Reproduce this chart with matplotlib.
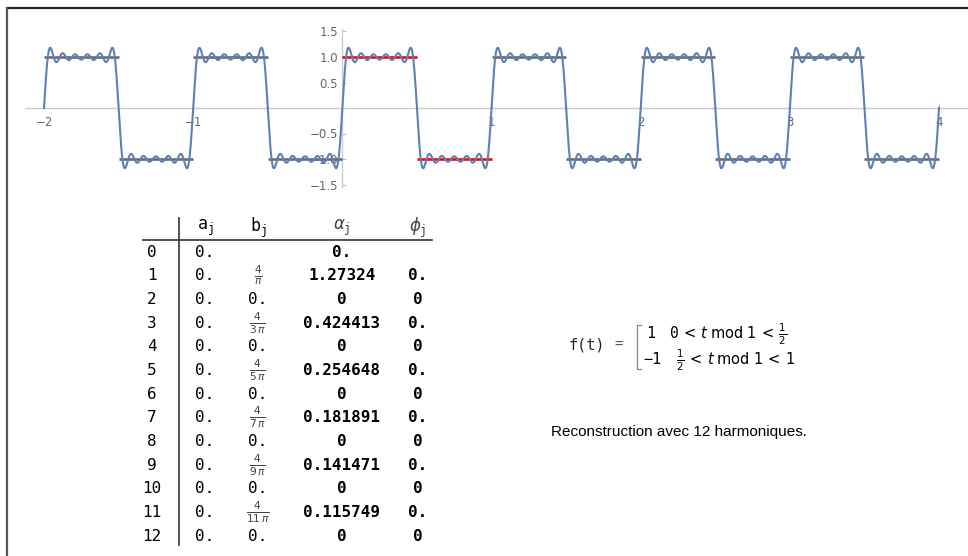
import numpy as np
import matplotlib.pyplot as plt
from matplotlib.lines import Line2D

# coefficients de Fourier (signal carré, période 1)
harmonics = list(range(13))
a_labels = ['0.'] * 13
b_values = [0, 4 / np.pi, 0, 4 / (3 * np.pi), 0, 4 / (5 * np.pi), 0,
            4 / (7 * np.pi), 0, 4 / (9 * np.pi), 0, 4 / (11 * np.pi), 0]
b_labels = ['', r'$\frac{4}{\pi}$', '0.', r'$\frac{4}{3\,\pi}$', '0.',
            r'$\frac{4}{5\,\pi}$', '0.', r'$\frac{4}{7\,\pi}$', '0.',
            r'$\frac{4}{9\,\pi}$', '0.', r'$\frac{4}{11\,\pi}$', '0.']
alpha_labels = ['0.', '1.27324', '0', '0.424413', '0', '0.254648', '0',
                '0.181891', '0', '0.141471', '0', '0.115749', '0']
phi_labels = ['', '0.', '0', '0.', '0', '0.', '0', '0.', '0', '0.', '0', '0.', '0']

t_start, t_end = -2, 4
periods = list(range(-2, 4))
x_ticks = [-2, -1, 1, 2, 3, 4]
y_ticks = [-1.5, -1.0, -0.5, 0.5, 1.0, 1.5]

W, H = 968, 556
fig = plt.figure(figsize=(W / 100, H / 100), dpi=100)


def px(x, y):
    return x / W, 1 - y / H


# axes: -2 -> px 44, 4 -> px 939 ; y=0 -> px 108, 51 px par unité
ux = (939 - 44) / 6
uy = 51
ax = fig.add_axes([25 / W, 1 - 195 / H, 943 / W, 170 / H])
ax.set_xlim(-2 - 19 / ux, 4 + 29 / ux)
ax.set_ylim(-(195 - 108) / uy, (108 - 25) / uy)
ax.patch.set_alpha(0)

# reconstruction avec 12 harmoniques
t = np.linspace(t_start, t_end, 4000)
f = np.zeros_like(t)
for j, b in zip(harmonics, b_values):
    f += b * np.sin(2 * np.pi * j * t)

for k in periods:
    c = 'red' if k == 0 else '#6b6b6b'
    ax.plot([k, k + 0.5], [1, 1], color=c, lw=1.9, zorder=2, solid_capstyle='butt')
    ax.plot([k + 0.5, k + 1], [-1, -1], color=c, lw=1.9, zorder=2, solid_capstyle='butt')
ax.plot(t, f, color='#5E81B5', lw=1.5, zorder=3)

for s in ['top', 'right']:
    ax.spines[s].set_visible(False)
ax.spines['bottom'].set_position(('data', 0))
ax.spines['left'].set_position(('data', 0))
ax.spines['left'].set_bounds(-1.55, 1.55)
for s in ['bottom', 'left']:
    ax.spines[s].set_color('#cccccc')
    ax.spines[s].set_linewidth(1.0)
    ax.spines[s].set_zorder(1)
ax.set_xticks(x_ticks)
ax.set_xticklabels([str(v).replace('-', '\u2212') for v in x_ticks])
ax.set_yticks(y_ticks)
ax.set_yticklabels([('%.1f' % v).replace('-', '\u2212') for v in y_ticks])
ax.tick_params(axis='both', colors='#bbbbbb', labelcolor='#666666',
               labelsize=8.5, length=3, width=0.8)
ax.tick_params(axis='x', direction='in', pad=6)
ax.tick_params(axis='y', direction='in', pad=3)

# cadre de la page
fig.add_artist(Line2D([7 / W, 1], [1 - 8 / H, 1 - 8 / H], color='#222222', lw=1.6))
fig.add_artist(Line2D([7 / W, 7 / W], [1 - 8 / H, 0], color='#555555', lw=1.6))

# tableau des coefficients
mono = 'DejaVu Sans Mono'
fs = 11.5
col_x = [152, 205, 258, 342, 418]
row0, dy = 252, 23.67
hy = 228
fig.text(*px(col_x[1], hy), r'$\mathtt{a}_{\mathtt{j}}$', ha='center', va='center', fontsize=12)
fig.text(*px(col_x[2], hy), r'$\mathtt{b}_{\mathtt{j}}$', ha='center', va='center', fontsize=12)
fig.text(*px(col_x[3], hy), r'$\alpha_{\mathtt{j}}$', ha='center', va='center', fontsize=12, color='#444444')
fig.text(*px(col_x[4], hy), r'$\phi_{\mathtt{j}}$', ha='center', va='center', fontsize=12, color='#444444')
fig.add_artist(Line2D([143 / W, 432 / W], [1 - 240 / H] * 2, color='#333333', lw=1.2))
fig.add_artist(Line2D([179 / W] * 2, [1 - 218 / H, 1 - 545 / H], color='#333333', lw=1.2))

for i, j in enumerate(harmonics):
    y = row0 + i * dy
    fig.text(*px(col_x[0], y), str(j), family=mono, fontsize=fs, ha='center', va='center')
    fig.text(*px(col_x[1], y), a_labels[i], family=mono, fontsize=fs, ha='center', va='center')
    if b_labels[i].startswith('$'):
        fig.text(*px(col_x[2], y), b_labels[i], fontsize=11, ha='center', va='center', color='#444444')
    else:
        fig.text(*px(col_x[2], y), b_labels[i], family=mono, fontsize=fs, ha='center', va='center')
    fig.text(*px(col_x[3], y), alpha_labels[i], family=mono, fontsize=fs,
             weight='bold', ha='center', va='center')
    fig.text(*px(col_x[4], y), phi_labels[i], family=mono, fontsize=fs,
             weight='bold', ha='center', va='center')

# définition de f(t)
fig.text(*px(568, 345), 'f(t)', family=mono, fontsize=11, ha='left', va='center', color='#222222')
fig.text(*px(614, 345), '=', family=mono, fontsize=10, ha='left', va='center', color='#555555')
bx = 637
fig.add_artist(Line2D([(bx + 4) / W, bx / W, bx / W, (bx + 4) / W],
                      [1 - 325 / H, 1 - 325 / H, 1 - 369 / H, 1 - 369 / H], color='#888888', lw=0.9))
fig.text(*px(646, 334), '1', family=mono, fontsize=11, ha='left', va='center')
fig.text(*px(643, 360), '\u22121', family=mono, fontsize=11, ha='left', va='center')
fig.text(*px(669, 334), r'$\mathtt{0}\,<\,t\;\mathrm{mod}\;1\,<\,\frac{1}{2}$',
         fontsize=10.5, ha='left', va='center')
fig.text(*px(676, 360), r'$\frac{1}{2}\,<\,t\;\mathrm{mod}\;1\,<\,1$',
         fontsize=10.5, ha='left', va='center')

fig.text(*px(551, 432), 'Reconstruction avec 12 harmoniques.', family='Liberation Sans',
         fontsize=11, ha='left', va='center')

fig.savefig('out.png', dpi=100)
